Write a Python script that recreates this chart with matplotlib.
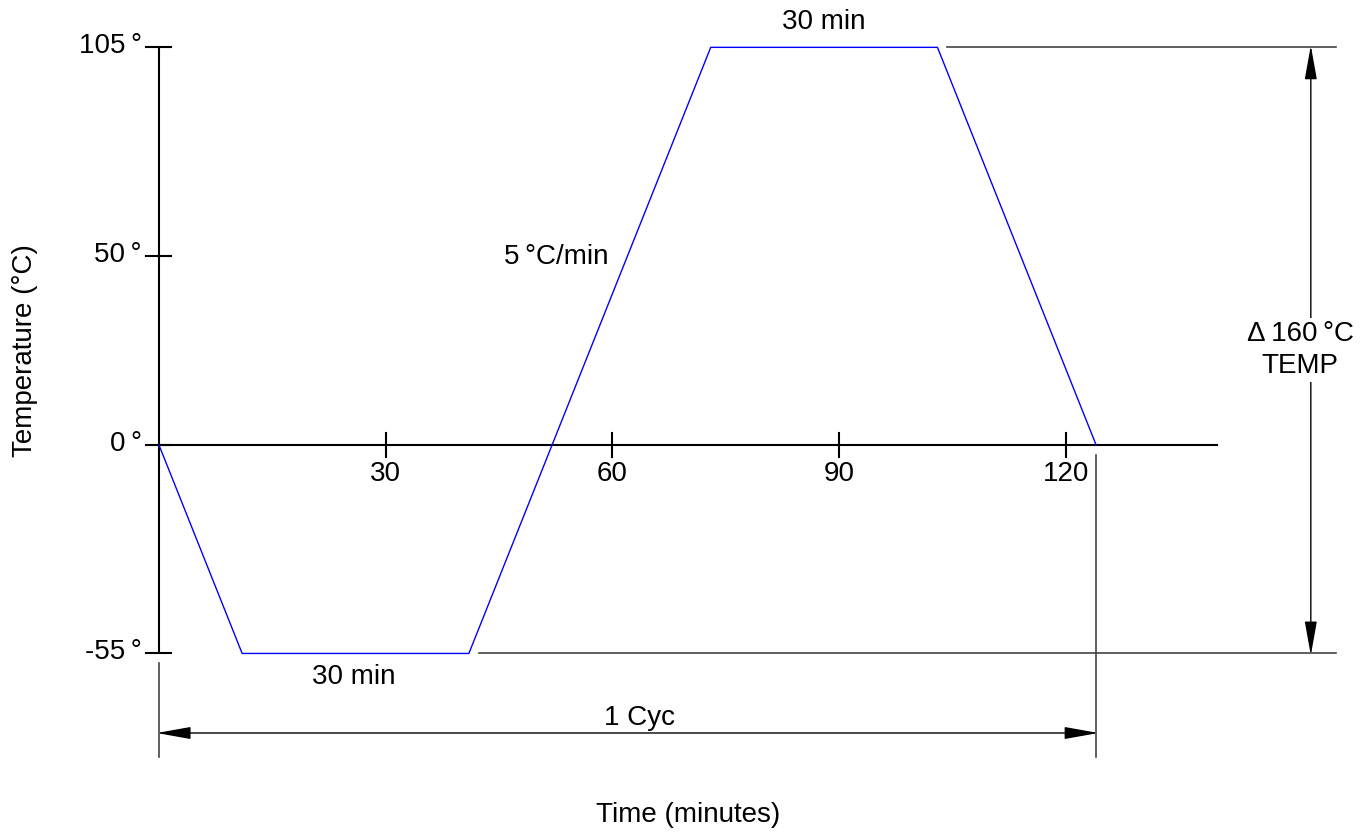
import numpy as np
from matplotlib import pyplot as plt

plt.rcParams['font.family'] = ['Liberation Sans', 'DejaVu Sans']

# temperature cycle profile (minutes, deg C)
times = [0, 11, 41, 73, 103, 124]
temps = [0, -55, -55, 105, 105, 0]

x_ticks = [30, 60, 90, 120]
y_ticks = [105, 50, 0, -55]
y_tick_labels = ["105\u2009°", "50\u2009°", "0\u2009°", "-55\u2009°"]

FS = 20
DIM = "#444444"

fig = plt.figure(figsize=(13.65, 8.33), dpi=100)
ax = fig.add_axes([0, 0, 1, 1])
ax.set_xlim(-21.04, 159.57)
ax.set_ylim(-102.4, 117.5)
ax.axis("off")

# axes
ax.plot([0, 0], [-55, 105], color="black", lw=1.5)
ax.plot([0, 140], [0, 0], color="black", lw=1.5)
for t in x_ticks:
    ax.plot([t, t], [-3.2, 3.2], color="black", lw=1.5)
    ax.text(t, -7.6, str(t), ha="center", va="center", fontsize=FS)
for v, lab in zip(y_ticks, y_tick_labels):
    ax.plot([-1.7, 1.6], [v, v], color="black", lw=1.5)
    ax.text(-2.3, v + 0.3, lab, ha="right", va="center", fontsize=FS)

# profile
ax.plot(times, temps, color="#0000ff", lw=1)

# annotations
ax.text(88, 111.6, "30 min", ha="center", va="center", fontsize=FS)
ax.text(25.8, -61.3, "30 min", ha="center", va="center", fontsize=FS)
ax.text(59.5, 49.6, "5\u2009°C/min", ha="right", va="center", fontsize=FS)

# extension lines
ax.plot([104.3, 155.7], [105, 105], color=DIM, lw=1.2)
ax.plot([42.3, 155.7], [-55, -55], color=DIM, lw=1.2)
ax.plot([0, 0], [-57.6, -82.4], color=DIM, lw=1.2)
ax.plot([124, 124], [-2.6, -82.4], color=DIM, lw=1.2)

arrow = dict(arrowstyle="<|-|>,head_length=1.4,head_width=0.25",
             color="black", lw=1, shrinkA=0, shrinkB=0, mutation_scale=15)
ax.annotate("", xy=(152.4, 105.5), xytext=(152.4, -55.5), arrowprops=arrow)
ax.annotate("", xy=(-0.3, -76.0), xytext=(124.3, -76.0), arrowprops=arrow)

ax.text(151, 25.1, "Δ\u2009160\u2009°C\nTEMP", ha="center", va="center",
        fontsize=FS, linespacing=1.3,
        bbox=dict(facecolor="white", edgecolor="none", pad=2))
ax.text(63.6, -72.1, "1 Cyc", ha="center", va="center", fontsize=FS)

ax.text(-17.7, 25, "Temperature (°C)", ha="center", va="center",
        rotation=90, fontsize=FS)
ax.text(70, -97.7, "Time (minutes)", ha="center", va="center", fontsize=FS)

fig.savefig("out.png", dpi=100)
